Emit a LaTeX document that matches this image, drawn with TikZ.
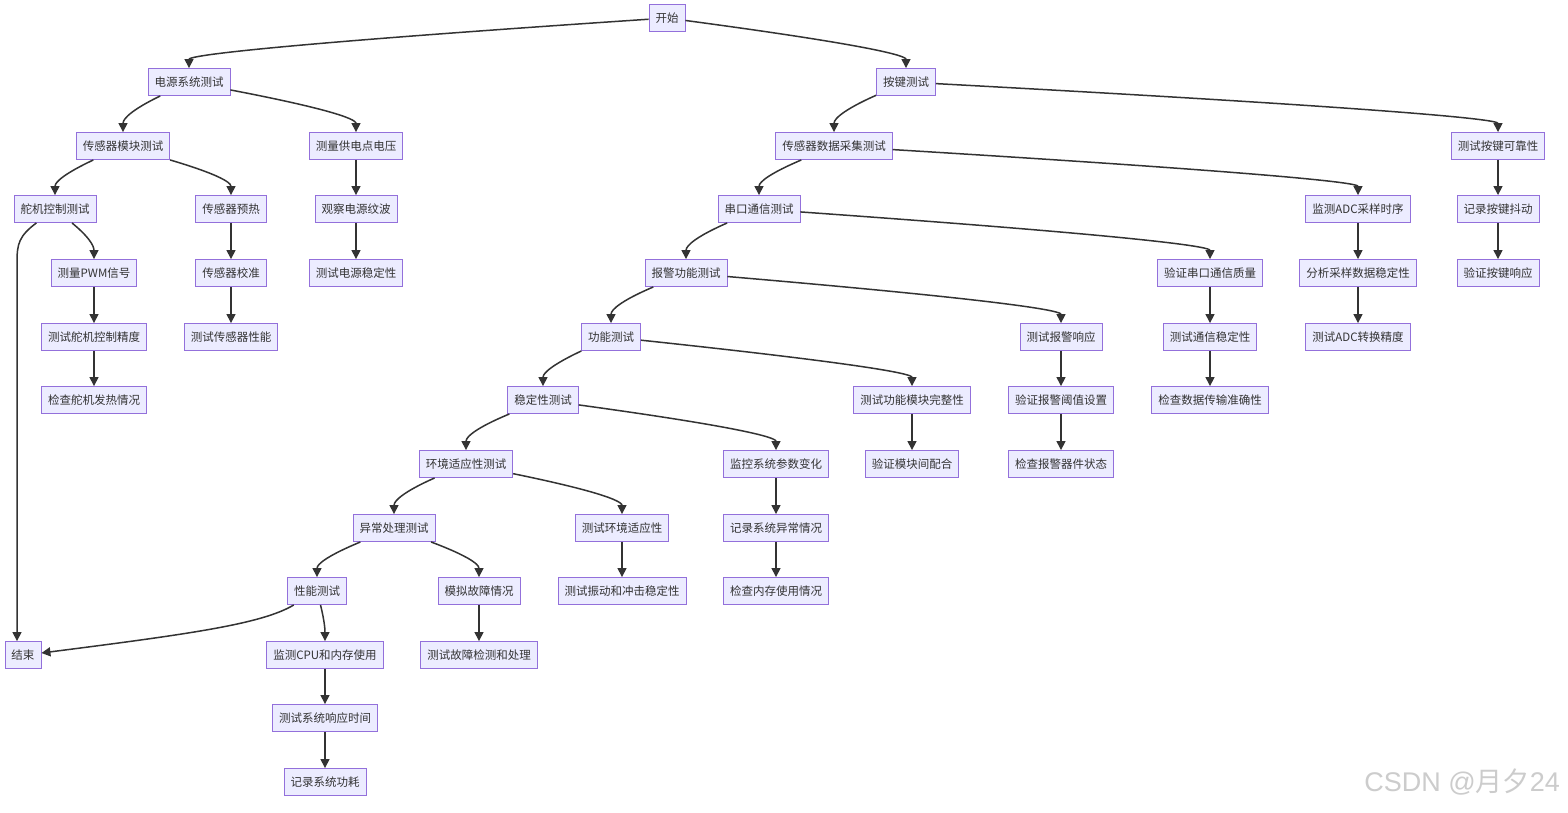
\documentclass[tikz,border=0pt]{standalone}
\usepackage{fontspec}
\newfontfamily\cjk{Noto Sans CJK SC}
\newfontfamily\wmfont{Liberation Sans}
\usetikzlibrary{arrows.meta,calc}
\definecolor{boxfill}{HTML}{ECECFF}
\definecolor{boxline}{HTML}{9370DB}
\definecolor{ink}{HTML}{333333}
\tikzset{
  box/.style={draw=boxline, fill=boxfill, line width=0.9pt, minimum height=27pt,
    inner xsep=6.5pt, inner ysep=0pt, text=ink, font=\cjk\fontsize{11.5}{12}\selectfont},
  arr/.style={draw=ink, line width=1.5pt, -{Triangle[length=9pt,width=9pt]}},
}
\newcommand\flowedge[2]{\draw[arr] (#1) .. controls ($(#1.center -| #2.north)+(0,-32)$) and ($(#2.north)+(0,10)$) .. (#2.north);}
\begin{document}
\begin{tikzpicture}[x=1pt,y=1pt]
\fill[white] (0,0) rectangle (1568,-812);
\useasboundingbox (0,0) rectangle (1568,-812);
% row 0
\node[box] (start) at (667,-18) {开始};
% row 1
\node[box] (pwr) at (189,-82) {电源系统测试};
\node[box] (key) at (906,-82) {按键测试};
% row 2
\node[box] (sen) at (123,-146) {传感器模块测试};
\node[box] (vol) at (356,-146) {测量供电点电压};
\node[box] (acq) at (834,-146) {传感器数据采集测试};
\node[box] (rel) at (1498,-146) {测试按键可靠性};
% row 3
\node[box] (servo) at (55,-209) {舵机控制测试};
\node[box] (pre) at (231,-209) {传感器预热};
\node[box] (rip) at (356,-209) {观察电源纹波};
\node[box] (uart) at (759,-209) {串口通信测试};
\node[box] (adc) at (1358,-209) {监测ADC采样时序};
\node[box] (deb) at (1498,-209) {记录按键抖动};
% row 4
\node[box] (pwm) at (94,-273) {测量PWM信号};
\node[box] (cal) at (231,-273) {传感器校准};
\node[box] (stab) at (356,-273) {测试电源稳定性};
\node[box] (alarm) at (686,-273) {报警功能测试};
\node[box] (uq) at (1210,-273) {验证串口通信质量};
\node[box] (ana) at (1358,-273) {分析采样数据稳定性};
\node[box] (kresp) at (1498,-273) {验证按键响应};
% row 5
\node[box] (acc) at (94,-337) {测试舵机控制精度};
\node[box] (sperf) at (231,-337) {测试传感器性能};
\node[box] (func) at (611,-337) {功能测试};
\node[box] (aresp) at (1061,-337) {测试报警响应};
\node[box] (cstab) at (1210,-337) {测试通信稳定性};
\node[box] (adcacc) at (1358,-337) {测试ADC转换精度};
% row 6
\node[box] (heat) at (94,-400) {检查舵机发热情况};
\node[box] (stabt) at (543,-400) {稳定性测试};
\node[box] (integ) at (912,-400) {测试功能模块完整性};
\node[box] (thr) at (1061,-400) {验证报警阈值设置};
\node[box] (trans) at (1210,-400) {检查数据传输准确性};
% row 7
\node[box] (env) at (466,-464) {环境适应性测试};
\node[box] (mon) at (776,-464) {监控系统参数变化};
\node[box] (coop) at (912,-464) {验证模块间配合};
\node[box] (adev) at (1061,-464) {检查报警器件状态};
% row 8
\node[box] (exc) at (394,-528) {异常处理测试};
\node[box] (tenv) at (622,-528) {测试环境适应性};
\node[box] (rec) at (776,-528) {记录系统异常情况};
% row 9
\node[box] (perf) at (317,-591) {性能测试};
\node[box] (sim) at (479,-591) {模拟故障情况};
\node[box] (vib) at (622,-591) {测试振动和冲击稳定性};
\node[box] (mem) at (776,-591) {检查内存使用情况};
% row 10
\node[box] (end) at (23,-655) {结束};
\node[box] (cpu) at (325,-655) {监测CPU和内存使用};
\node[box] (fault) at (479,-655) {测试故障检测和处理};
% rows 11-12
\node[box] (resp) at (325,-718) {测试系统响应时间};
\node[box] (power) at (325,-782) {记录系统功耗};
\coordinate (lane) at (17,-400);

% curved edges
\flowedge{start}{pwr}
\flowedge{start}{key}
\flowedge{pwr}{sen}
\flowedge{pwr}{vol}
\flowedge{sen}{servo}
\flowedge{sen}{pre}
\flowedge{servo}{pwm}
\flowedge{key}{acq}
\flowedge{key}{rel}
\flowedge{acq}{uart}
\flowedge{acq}{adc}
\flowedge{uart}{alarm}
\flowedge{uart}{uq}
\flowedge{alarm}{func}
\flowedge{alarm}{aresp}
\flowedge{func}{stabt}
\flowedge{func}{integ}
\flowedge{stabt}{env}
\flowedge{stabt}{mon}
\flowedge{env}{exc}
\flowedge{env}{tenv}
\flowedge{exc}{perf}
\flowedge{exc}{sim}
\flowedge{perf}{cpu}
% special edges to end
\draw[arr] (servo) .. controls ($(lane |- servo.south)+(2,-13)$) and ($(lane |- servo.south)+(0,-21)$) .. ($(lane |- servo.south)+(0,-39)$) -- (lane |- end.north);
\draw[arr] (perf) .. controls (262,-624) and (190,-634) .. ($(end.east)+(0,2)$);
% straight edges
\draw[arr] (pwm) -- (acc);
\draw[arr] (acc) -- (heat);
\draw[arr] (pre) -- (cal);
\draw[arr] (cal) -- (sperf);
\draw[arr] (vol) -- (rip);
\draw[arr] (rip) -- (stab);
\draw[arr] (rel) -- (deb);
\draw[arr] (deb) -- (kresp);
\draw[arr] (adc) -- (ana);
\draw[arr] (ana) -- (adcacc);
\draw[arr] (uq) -- (cstab);
\draw[arr] (cstab) -- (trans);
\draw[arr] (aresp) -- (thr);
\draw[arr] (thr) -- (adev);
\draw[arr] (integ) -- (coop);
\draw[arr] (mon) -- (rec);
\draw[arr] (rec) -- (mem);
\draw[arr] (tenv) -- (vib);
\draw[arr] (sim) -- (fault);
\draw[arr] (cpu) -- (resp);
\draw[arr] (resp) -- (power);
% watermark
\node[anchor=east, text=black!20, inner sep=0pt] (wm) at (1560,-782) {\wmfont\fontsize{27}{30}\selectfont CSDN @\cjk 月夕\wmfont 24};
\end{tikzpicture}
\end{document}
